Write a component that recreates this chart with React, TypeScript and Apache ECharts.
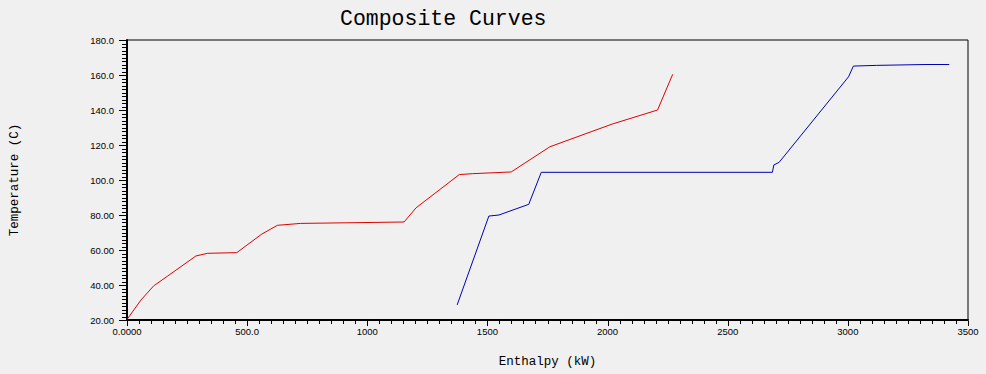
import React, { useEffect, useRef } from "react";
import * as echarts from "echarts";

// Hot composite curve (enthalpy kW, temperature C)
const hotEnthalpy = [0, 58, 111, 169, 287, 335, 457, 561, 626, 723, 945, 1153, 1203, 1383, 1437, 1599, 1760, 2020, 2208, 2271];
const hotTemp = [20.3, 31.4, 39.5, 45.1, 56.6, 58.1, 58.5, 69.1, 74.1, 75.2, 75.6, 76.0, 84.1, 103.1, 103.6, 104.6, 119.0, 132.0, 140.0, 160.4];

// Cold composite curve
const coldEnthalpy = [1374, 1506, 1548, 1672, 1724, 2686, 2692, 2714, 3003, 3023, 3120, 3321, 3422];
const coldTemp = [28.6, 79.4, 80.0, 86.1, 104.4, 104.4, 108.6, 110.1, 159.0, 165.1, 165.5, 166.0, 166.0];

const xTicks = [0, 500, 1000, 1500, 2000, 2500, 3000, 3500];
const xTickLabels = ["0.0000", "500.0", "1000", "1500", "2000", "2500", "3000", "3500"];
const yTickLabels = ["20.00", "40.00", "60.00", "80.00", "100.0", "120.0", "140.0", "160.0", "180.0"];

// Tick marks (axis decoration): major every 500 / 20, minor every 50 / 2
const xMinorStep = 50;
const yMinorStep = 2;

const zip = (xs: number[], ys: number[]) => xs.map((x, i) => [x, ys[i]]);

export default function App() {
  const ref = useRef<HTMLDivElement>(null);
  useEffect(() => {
    if (!ref.current) return;
    const chart = echarts.init(ref.current, undefined, { renderer: "svg" });
    const mono = "Liberation Mono";
    const tickFont = "Liberation Sans";

    const xTickData: number[][] = [];
    for (let v = 0; v <= 3500; v += xMinorStep) xTickData.push([v, 20, v % 500 === 0 ? 1 : 0]);
    const yTickData: number[][] = [];
    for (let v = 20; v <= 180; v += yMinorStep) yTickData.push([0, v, (v - 20) % 20 === 0 ? 1 : 0]);

    chart.setOption({
      animation: false,
      backgroundColor: "#f0f0f0",
      title: {
        text: "Composite Curves",
        left: 335,
        top: 3,
        textStyle: { fontFamily: mono, fontSize: 21.5, fontWeight: "normal", color: "#000" },
      },
      grid: {
        left: 126,
        top: 40,
        right: 18,
        bottom: 54,
        show: true,
        borderColor: "#000",
        borderWidth: 1,
        backgroundColor: "transparent",
      },
      xAxis: {
        type: "value",
        min: 0,
        max: 3500,
        interval: 500,
        name: "Enthalpy (kW)",
        nameLocation: "middle",
        nameGap: 35,
        nameTextStyle: { fontFamily: mono, fontSize: 12.5, color: "#000" },
        axisLine: { show: true, lineStyle: { color: "#000", width: 2 } },
        axisTick: { show: false },
        splitLine: { show: false },
        axisLabel: {
          margin: 6,
          fontFamily: tickFont,
          fontSize: 9.5,
          color: "#000",
          formatter: (v: number) => {
            const i = xTicks.indexOf(v);
            return i >= 0 ? xTickLabels[i] : String(v);
          },
        },
      },
      yAxis: {
        type: "value",
        min: 20,
        max: 180,
        interval: 20,
        name: "Temperature (C)",
        nameLocation: "middle",
        nameGap: 106,
        nameTextStyle: { fontFamily: mono, fontSize: 12.5, color: "#000" },
        axisLine: { show: true, lineStyle: { color: "#000", width: 2 } },
        axisTick: { show: false },
        splitLine: { show: false },
        axisLabel: {
          margin: 13,
          fontFamily: tickFont,
          fontSize: 9.5,
          color: "#000",
          formatter: (v: number) => {
            const i = Math.round((v - 20) / 20);
            return yTickLabels[i] ?? String(v);
          },
        },
      },
      series: [
        {
          name: "Hot",
          type: "line",
          data: zip(hotEnthalpy, hotTemp),
          showSymbol: false,
          symbol: "none",
          lineStyle: { color: "#dd0000", width: 1 },
          itemStyle: { color: "#dd0000" },
          z: 3,
        },
        {
          name: "Cold",
          type: "line",
          data: zip(coldEnthalpy, coldTemp),
          showSymbol: false,
          symbol: "none",
          lineStyle: { color: "#0000b4", width: 1 },
          itemStyle: { color: "#0000b4" },
          z: 3,
        },
        {
          name: "xTicks",
          type: "custom",
          clip: false,
          silent: true,
          z: 1,
          data: xTickData,
          encode: { x: 0, y: 1 },
          renderItem: (_p: any, api: any) => {
            const pt = api.coord([api.value(0), api.value(1)]);
            const major = api.value(2) === 1;
            const x = Math.round(pt[0]) + 0.5;
            const y = pt[1] + 1;
            return {
              type: "line",
              shape: { x1: x, y1: y, x2: x, y2: y + (major ? 5 : 3) },
              style: { stroke: "#000", lineWidth: 1 },
            };
          },
        },
        {
          name: "yTicks",
          type: "custom",
          clip: false,
          silent: true,
          z: 1,
          data: yTickData,
          encode: { x: 0, y: 1 },
          renderItem: (_p: any, api: any) => {
            const pt = api.coord([api.value(0), api.value(1)]);
            const major = api.value(2) === 1;
            const y = Math.round(pt[1]) + 0.5;
            const x = pt[0] - 1;
            return {
              type: "line",
              shape: { x1: x - (major ? 7 : 4), y1: y, x2: x, y2: y },
              style: { stroke: "#000", lineWidth: 1 },
            };
          },
        },
      ],
    });
    return () => chart.dispose();
  }, []);
  return (
    <div
      ref={ref}
      style={{ position: "fixed", left: 0, top: 0, width: 986, height: 374, background: "#f0f0f0" }}
    />
  );
}
